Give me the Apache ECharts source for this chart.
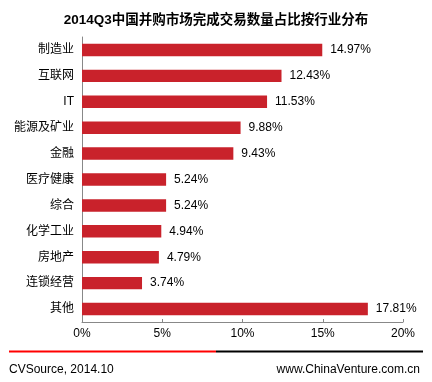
<!DOCTYPE html>
<html><head><meta charset="utf-8">
<script src="https://cdn.jsdelivr.net/npm/echarts@6/dist/echarts.min.js"></script>
<style>html,body{margin:0;padding:0;background:#fff}#c{width:432px;height:382px}</style>
</head><body><div id="c"></div>
<script>
var categories = ['制造业','互联网','IT','能源及矿业','金融','医疗健康','综合','化学工业','房地产','连锁经营','其他'];
var values = [14.97,12.43,11.53,9.88,9.43,5.24,5.24,4.94,4.79,3.74,17.81];
var titleText = '2014Q3中国并购市场完成交易数量占比按行业分布';
var sourceText = 'CVSource, 2014.10';
var siteText = 'www.ChinaVenture.com.cn';
var font = '"Liberation Sans", Arial, "Noto Sans CJK SC", sans-serif';
var chart = echarts.init(document.getElementById('c'));
chart.setOption({
  animation:false,
  title:{text:titleText,left:'center',top:9,textStyle:{fontFamily:font,fontSize:13.5,fontWeight:'bold',color:'#000'}},
  grid:{left:82,right:29,top:37,bottom:60},
  xAxis:{type:'value',min:0,max:20,interval:5,
    axisLine:{show:true,lineStyle:{color:'#888',width:1}},
    axisTick:{show:true,inside:true,length:3,lineStyle:{color:'#888'}},
    splitLine:{show:false},
    axisLabel:{margin:6,fontFamily:font,fontSize:12,color:'#000',formatter:'{value}%'}},
  yAxis:{type:'category',data:categories,inverse:true,
    axisLine:{show:true,lineStyle:{color:'#888',width:1}},
    axisTick:{show:false},
    axisLabel:{margin:8,fontFamily:font,fontSize:12,color:'#000'}},
  series:[{type:'bar',data:values,barCategoryGap:'52%',
    itemStyle:{color:'#c9222b'},
    label:{show:true,position:'right',distance:8,fontFamily:font,fontSize:12,color:'#000',
      formatter:function(p){return p.value.toFixed(2)+'%';}}}],
  graphic:[
    {type:'rect',shape:{x:9,y:350.5,width:207,height:2},style:{fill:'#ff0000'}},
    {type:'rect',shape:{x:216,y:350.5,width:207,height:2},style:{fill:'#000'}},
    {type:'text',left:9,top:364,style:{text:sourceText,font:'12px '+font,fill:'#000'}},
    {type:'text',right:12,top:364,style:{text:siteText,font:'12px '+font,fill:'#000'}}
  ]
});
</script></body></html>
